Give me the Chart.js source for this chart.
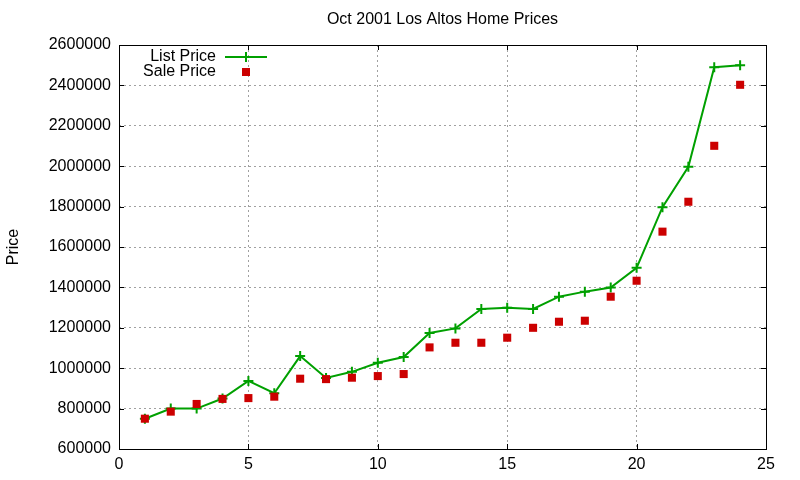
<!DOCTYPE html>
<html>
<head>
<meta charset="utf-8">
<title>Oct 2001 Los Altos Home Prices</title>
<script src="https://cdn.jsdelivr.net/npm/chart.js@4.4.1/dist/chart.umd.min.js"></script>
<style>
    html, body { margin: 0; padding: 0; background: #fff; }
    #wrap { width: 800px; height: 480px; }
</style>
</head>
<body>
<div id="wrap"><canvas id="chart" width="800" height="480"></canvas></div>
<script>
// Data
const houseIndex = [1, 2, 3, 4, 5, 6, 7, 8, 9, 10, 11, 12, 13, 14, 15, 16, 17, 18, 19, 20, 21, 22, 23, 24];
const listPrice = [750000, 800000, 800000, 850000, 937000, 876000, 1060000, 952000, 982000, 1027000, 1055000,
    1174000, 1197000, 1293000, 1299000, 1293000, 1354000, 1379000, 1399000, 1497000, 1797000, 1997000,
    2490000, 2500000];
const salePrice = [750000, 785000, 823000, 848000, 852000, 859000, 948000, 946000, 953000, 961000, 971000,
    1103000, 1126000, 1126000, 1151000, 1200000, 1230000, 1235000, 1354000, 1433000, 1676000, 1824000,
    2101000, 2403000];
const xTicks = [0, 5, 10, 15, 20, 25];
const yTicks = [600000, 800000, 1000000, 1200000, 1400000, 1600000, 1800000, 2000000, 2200000, 2400000, 2600000];

const chartTitle = 'Oct 2001 Los Altos Home Prices';
const FONT = 'Liberation Sans, Arial, sans-serif';
const GREEN = '#00a000';
const RED = '#cc0000';

// gnuplot-like frame: box border, inward ticks on all four sides, title over plot area, inset legend
const gnuplotFrame = {
    id: 'gnuplotFrame',
    afterDatasetsDraw(chart) {
        const { ctx, chartArea: a, scales } = chart;
        const tick = 5;
        ctx.save();
        ctx.strokeStyle = '#000';
        ctx.lineWidth = 1;
        ctx.beginPath();
        yTicks.forEach(v => {
            const y = Math.round(scales.y.getPixelForValue(v)) + 0.5;
            ctx.moveTo(a.left, y); ctx.lineTo(a.left + tick, y);
            ctx.moveTo(a.right, y); ctx.lineTo(a.right - tick, y);
        });
        xTicks.forEach(v => {
            const x = Math.round(scales.x.getPixelForValue(v)) + 0.5;
            ctx.moveTo(x, a.bottom); ctx.lineTo(x, a.bottom - tick);
            ctx.moveTo(x, a.top); ctx.lineTo(x, a.top + tick);
        });
        ctx.stroke();
        ctx.strokeRect(Math.round(a.left) + 0.5, Math.round(a.top) + 0.5,
            Math.round(a.right - a.left), Math.round(a.bottom - a.top));

        // title
        ctx.fillStyle = '#000';
        ctx.font = '16px ' + FONT;
        ctx.textAlign = 'center';
        ctx.textBaseline = 'middle';
        ctx.fillText(chartTitle, (a.left + a.right) / 2, 20);

        // legend
        const textRight = a.left + 97;
        const sampleX = a.left + 127;
        ctx.font = '16px ' + FONT;
        ctx.textAlign = 'right';
        chart.data.datasets.forEach((ds, i) => {
            const y = a.top + 12 + i * 15;
            ctx.fillStyle = '#000';
            ctx.fillText(ds.label, textRight, y);
            ctx.fillStyle = ds.pointBackgroundColor;
            ctx.strokeStyle = ds.borderColor;
            ctx.lineWidth = 2;
            ctx.beginPath();
            if (ds.pointStyle === 'rect') {
                ctx.fillRect(sampleX - 4, y - 4, 8, 8);
            } else {
                ctx.moveTo(sampleX - 21, y); ctx.lineTo(sampleX + 21, y);
                ctx.moveTo(sampleX, y - 5); ctx.lineTo(sampleX, y + 5);
                ctx.stroke();
            }
        });
        ctx.restore();
    }
};

const gridStyle = { color: '#a0a0a0', lineWidth: 1, tickLength: 0, drawTicks: false };

new Chart(document.getElementById('chart'), {
    type: 'line',
    data: {
        labels: houseIndex,
        datasets: [{
            label: 'List Price',
            data: houseIndex.map((x, i) => ({ x, y: listPrice[i] })),
            order: 1,
            borderColor: GREEN,
            backgroundColor: GREEN,
            borderWidth: 2,
            pointStyle: 'cross',
            pointRadius: 5,
            pointBorderWidth: 2,
            pointBorderColor: GREEN,
            pointBackgroundColor: GREEN,
            tension: 0
        }, {
            label: 'Sale Price',
            data: houseIndex.map((x, i) => ({ x, y: salePrice[i] })),
            order: 0,
            showLine: false,
            borderColor: RED,
            backgroundColor: RED,
            pointStyle: 'rect',
            pointRadius: 5.7,
            pointBorderWidth: 0,
            pointBorderColor: RED,
            pointBackgroundColor: RED
        }]
    },
    options: {
        responsive: false,
        animation: false,
        events: [],
        layout: { padding: { top: 45, right: 34, bottom: 0, left: 0 } },
        plugins: {
            legend: { display: false },
            title: { display: false },
            tooltip: { enabled: false }
        },
        scales: {
            x: {
                type: 'linear',
                min: 0,
                max: 25,
                afterBuildTicks: s => { s.ticks = xTicks.map(v => ({ value: v })); },
                afterFit: s => { s.height = 31; },
                border: { display: false, dash: [2, 3] },
                grid: gridStyle,
                ticks: { color: '#000', padding: 6, font: { family: FONT, size: 16 } }
            },
            y: {
                min: 600000,
                max: 2600000,
                afterBuildTicks: s => { s.ticks = yTicks.map(v => ({ value: v })); },
                afterFit: s => { s.width = 119; },
                border: { display: false, dash: [2, 3] },
                grid: gridStyle,
                ticks: {
                    color: '#000',
                    padding: 8,
                    font: { family: FONT, size: 16 },
                    callback: v => String(v)
                },
                title: {
                    display: true,
                    text: 'Price',
                    color: '#000',
                    padding: { top: 4, bottom: 0 },
                    font: { family: FONT, size: 16 }
                }
            }
        }
    },
    plugins: [gnuplotFrame]
});
</script>
</body>
</html>
